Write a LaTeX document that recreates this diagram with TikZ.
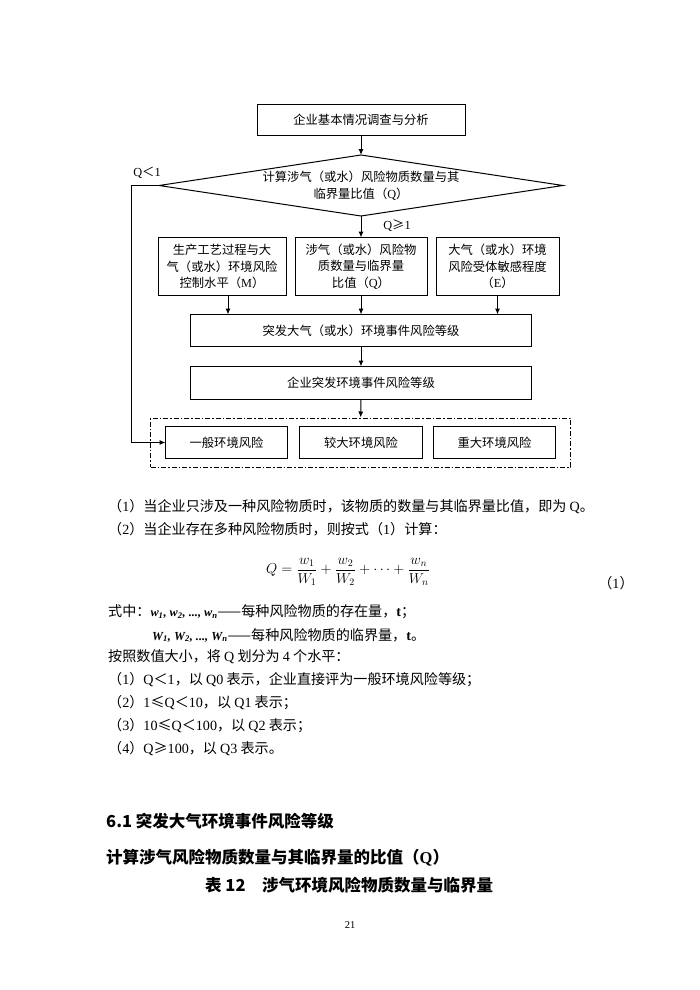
\documentclass[tikz,border=0pt]{standalone}
\usepackage[no-math]{fontspec}
\setmainfont{Noto Sans CJK SC}
\newfontfamily\tnr{Liberation Serif}
\usetikzlibrary{shapes.geometric,arrows.meta,positioning,fit}
\newcommand{\en}[1]{{\tnr #1}}
\newcommand{\boxfont}{\fontsize{12.3}{16.7}\selectfont}
\newcommand{\bodyfont}{\fontsize{14.1}{17}\selectfont}
\newcommand{\headfont}{\fontsize{16.5}{20}\selectfont\bfseries}

\begin{document}
\begin{tikzpicture}[
    x=1pt, y=-1pt,
    block/.style={rectangle, draw, line width=1pt, inner sep=0pt, outer sep=0pt, align=center, font=\boxfont},
    decide/.style={diamond, draw, line width=1pt, aspect=6.6, inner sep=0pt, outer sep=0pt, minimum width=404pt, minimum height=61pt, align=center, font=\boxfont},
    group/.style={draw, line width=1pt, dash pattern=on 5pt off 2pt on 1.5pt off 2pt, inner xsep=15pt, inner ysep=8.5pt},
    arrow/.style={-{Latex[length=6pt,width=5pt]}, line width=1pt},
    lbl/.style={inner sep=0pt, font=\boxfont},
    txt/.style={anchor=west, inner sep=0pt, font=\bodyfont},
    head/.style={anchor=west, inner sep=0pt, font=\headfont}
]
    \path[fill=white, use as bounding box] (0,0) rectangle (700,990);

    \node[block, minimum width=208pt, minimum height=31pt] (survey) at (361,119.5) {企业基本情况调查与分析};
    \node[decide, below=20pt of survey] (ratio) {计算涉气（或水）风险物质数量与其\\临界量比值（\en{Q}）};
    \node[block, below=21.5pt of ratio, minimum width=132pt, minimum height=58pt] (qbox)
        {涉气（或水）风险物\\质数量与临界量\\比值（\en{Q}）};
    \node[block, left=9pt of qbox, minimum width=128pt, minimum height=58pt] (mbox)
        {生产工艺过程与大\\气（或水）环境风险\\控制水平（\en{M}）};
    \node[block, right=9pt of qbox, minimum width=123pt, minimum height=58pt] (ebox)
        {大气（或水）环境\\风险受体敏感程度\\（\en{E}）};
    \node[block, below=19pt of qbox, minimum width=341pt, minimum height=32pt] (event) {突发大气（或水）环境事件风险等级};
    \node[block, below=20pt of event, minimum width=341pt, minimum height=33pt] (firm) {企业突发环境事件风险等级};
    \node[block, below=27pt of firm, minimum width=123pt, minimum height=32pt] (larger) {较大环境风险};
    \node[block, left=12pt of larger, minimum width=122pt, minimum height=32pt] (general) {一般环境风险};
    \node[block, right=11pt of larger, minimum width=122pt, minimum height=32pt] (major) {重大环境风险};
    \node[group, fit=(general)(major)] (levels) {};

    \coordinate[left=28pt of ratio.west] (bypass);
    \node[lbl] (qlow) at (147,173) {\en{Q}＜\en{1}};
    \node[lbl] (qhigh) at (397,226) {\en{Q}≥\en{1}};

    \draw[arrow] (survey) -- (ratio);
    \draw[arrow] (ratio) -- (qbox);
    \draw[arrow] ([xshift=6pt]mbox.south) -- ([xshift=6pt]mbox.south |- event.north);
    \draw[arrow] (qbox) -- (event);
    \draw[arrow] (ebox.south) -- (ebox.south |- event.north);
    \draw[arrow] (event) -- (firm);
    \draw[arrow] (firm) -- (levels);
    \draw[arrow] (ratio.west) -- (bypass) |- (general.west);

    \node[txt] (l1) at (108,507) {（\en{1}）当企业只涉及一种风险物质时，该物质的数量与其临界量比值，即为 \en{Q}。};
    \node[txt] (l2) at (108,529) {（\en{2}）当企业存在多种风险物质时，则按式（\en{1}）计算：};
    \node[inner sep=0pt, font=\bodyfont] (formula) at (348,572)
        {$\displaystyle Q=\frac{w_1}{W_1}+\frac{w_2}{W_2}+\cdots+\frac{w_n}{W_n}$};
    \node[inner sep=0pt, font=\bodyfont] (eqno) at (616,583) {（\en{1}）};
    \node[txt] (l3) at (108,612) {式中：{\tnr\bfseries\itshape\fontsize{12.3}{15}\selectfont w\textsubscript{1}, w\textsubscript{2}, ..., w\textsubscript{n}}——每种风险物质的存在量，\en{\bfseries t}；};
    \node[txt] (l4) at (152,635) {{\tnr\bfseries\itshape\fontsize{12.3}{15}\selectfont W\textsubscript{1}, W\textsubscript{2}, ..., W\textsubscript{n}}——每种风险物质的临界量，\en{\bfseries t}。};
    \node[txt] (l5) at (108,657) {按照数值大小，将 \en{Q} 划分为 \en{4} 个水平：};
    \node[txt] (l6) at (108,680) {（\en{1}）\en{Q}＜\en{1}，以 \en{Q0} 表示，企业直接评为一般环境风险等级；};
    \node[txt] (l7) at (108,703) {（\en{2}）\en{1}≤\en{Q}＜\en{10}，以 \en{Q1} 表示；};
    \node[txt] (l8) at (108,726) {（\en{3}）\en{10}≤\en{Q}＜\en{100}，以 \en{Q2} 表示；};
    \node[txt] (l9) at (108,749) {（\en{4}）\en{Q}≥\en{100}，以 \en{Q3} 表示。};

    \node[head] (sec) at (106,821) {6.1 突发大气环境事件风险等级};
    \node[head] (sub) at (106,858) {计算涉气风险物质数量与其临界量的比值（\en{Q}）};
    \node[head] (cap) at (205,885) {表 12\quad 涉气环境风险物质数量与临界量};
    \node[inner sep=0pt, font=\tnr\fontsize{10.5}{12}\selectfont] (page) at (350,925) {21};
\end{tikzpicture}
\end{document}
